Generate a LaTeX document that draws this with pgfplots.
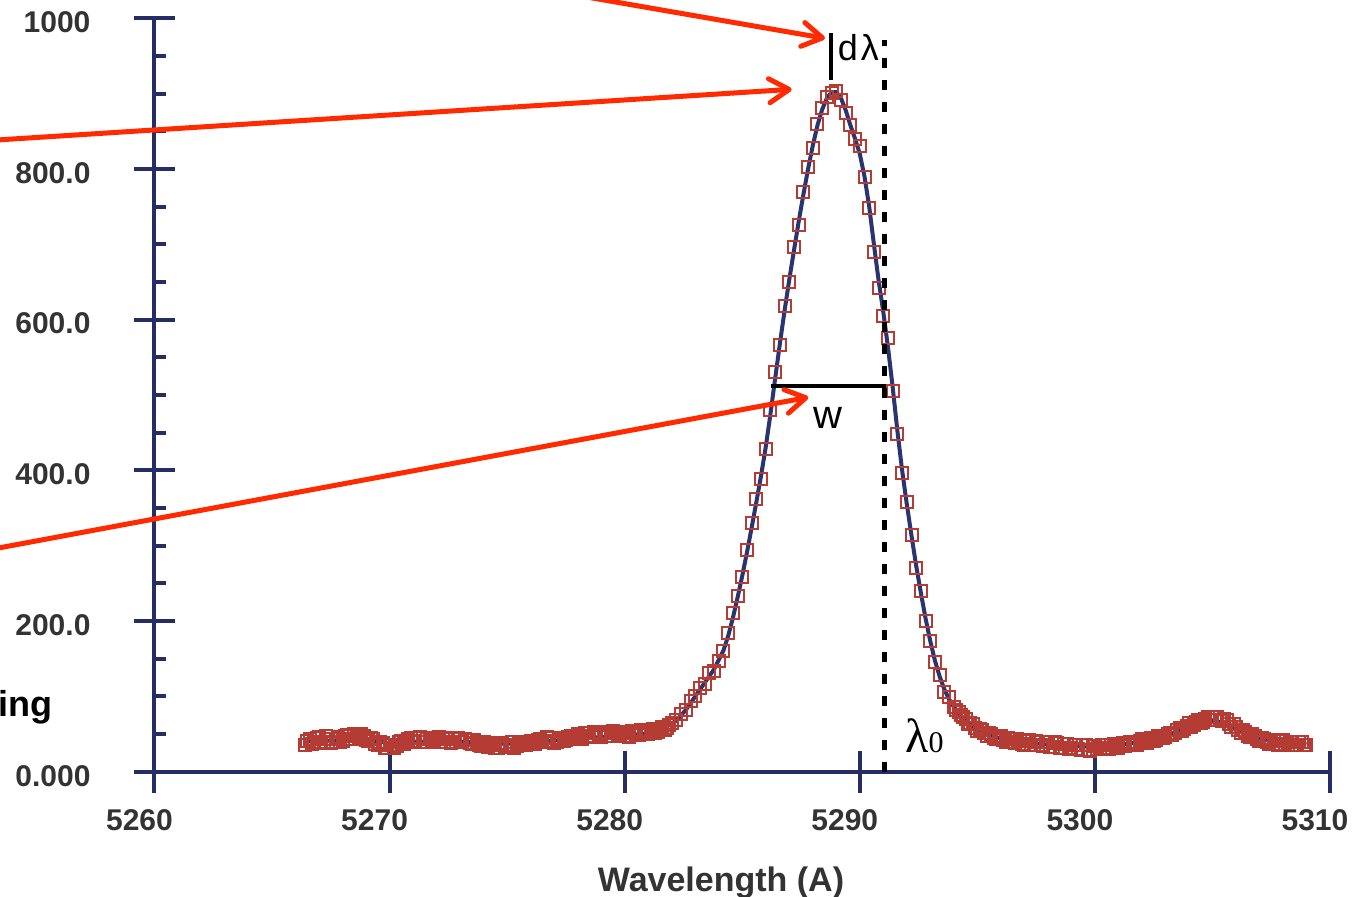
\documentclass[border=0pt]{standalone}
\usepackage{pgfplots}
\pgfplotsset{compat=1.18}
\usepackage{pgfplotstable}
\usepackage{fontspec}
\setmainfont{Liberation Sans}
\newfontfamily\lamfont{Liberation Serif}
\usetikzlibrary{arrows.meta}

\definecolor{axnavy}{RGB}{38,45,100}
\definecolor{mred}{RGB}{180,60,52}
\definecolor{fitblue}{RGB}{42,52,112}
\definecolor{arrred}{RGB}{255,42,0}
\definecolor{lblgray}{RGB}{51,51,51}

\pgfplotstableread{
x y
5266.4 36
5266.6 44
5266.8 39
5267.0 46
5267.2 38
5267.4 44
5267.6 39
5267.8 46
5268.0 41
5268.2 49
5268.4 44
5268.6 48
5268.8 50
5269.0 42
5269.2 45
5269.4 37
5269.6 39
5269.8 32
5270.0 35
5270.2 31
5270.4 40
5270.6 37
5270.8 44
5271.0 39
5271.2 45
5271.4 40
5271.6 43
5271.8 39
5272.0 44
5272.2 40
5272.4 45
5272.6 38
5272.8 43
5273.0 40
5273.2 44
5273.4 38
5273.6 42
5273.8 36
5274.0 39
5274.2 33
5274.4 38
5274.6 32
5274.8 38
5275.0 33
5275.2 39
5275.4 34
5275.6 40
5275.8 35
5276.0 41
5276.2 37
5276.4 44
5276.6 39
5276.8 45
5277.0 38
5277.2 44
5277.4 41
5277.6 46
5277.8 43
5278.0 50
5278.2 44
5278.4 51
5278.6 47
5278.8 52
5279.0 46
5279.2 51
5279.4 47
5279.6 53
5279.8 48
5280.0 53
5280.2 46
5280.4 53
5280.6 49
5280.8 54
5281.0 50
5281.2 57
5281.4 53
5281.6 59
5281.8 58
5282.0 65
5282.2 68
5282.4 77
5282.6 82
5282.8 94
5283.0 100
5283.2 111
5283.4 117
5283.6 131
5283.8 134
5284.0 147
5284.2 160
5284.4 184
5284.6 210
5284.8 233
5285.0 259
5285.2 294
5285.4 330
5285.6 362
5285.8 388
5286.0 428
5286.2 480
5286.4 530
5286.6 566
5286.8 618
5287.0 650
5287.2 696
5287.4 726
5287.6 770
5287.8 802
5288.0 828
5288.2 860
5288.4 881
5288.6 896
5288.8 901
5289.0 903
5289.2 892
5289.4 874
5289.6 858
5289.8 840
5290.0 830
5290.2 790
5290.4 748
5290.6 690
5290.8 642
5291.0 605
5291.2 575
5291.4 505
5291.6 448
5291.8 396
5292.0 358
5292.2 314
5292.4 271
5292.6 240
5292.8 200
5293.0 174
5293.2 146
5293.4 128
5293.6 106
5293.8 99
5294.0 86
5294.2 79
5294.4 73
5294.6 63
5294.8 63
5295.0 54
5295.2 55
5295.4 48
5295.6 50
5295.8 43
5296.0 47
5296.2 40
5296.4 43
5296.6 38
5296.8 41
5297.0 36
5297.2 42
5297.4 35
5297.6 40
5297.8 34
5298.0 39
5298.2 33
5298.4 38
5298.6 32
5298.8 37
5299.0 31
5299.2 36
5299.4 29
5299.6 35
5299.8 28
5300.0 34
5300.2 31
5300.4 35
5300.6 30
5300.8 37
5301.0 32
5301.2 38
5301.4 35
5301.6 40
5301.8 36
5302.0 43
5302.2 38
5302.4 45
5302.6 42
5302.8 48
5303.0 46
5303.2 52
5303.4 51
5303.6 58
5303.8 57
5304.0 64
5304.2 62
5304.4 68
5304.6 66
5304.8 72
5305.0 69
5305.2 72
5305.4 67
5305.6 69
5305.8 60
5306.0 60
5306.2 52
5306.4 53
5306.6 46
5306.8 48
5307.0 41
5307.2 43
5307.4 37
5307.6 41
5307.8 36
5308.0 42
5308.2 36
5308.4 39
5308.6 35
5308.8 40
5309.0 35
}\datatable

\pgfplotstableread{
x y
5266.5 41
5266.7 37
5266.9 45
5267.1 40
5267.3 47
5267.5 38
5267.7 43
5267.9 40
5268.1 47
5268.3 43
5268.5 50
5268.7 45
5268.9 48
5269.1 41
5269.3 43
5269.5 36
5269.7 38
5269.9 31
5270.1 36
5270.3 34
5270.5 41
5270.7 39
5270.9 45
5271.1 41
5271.3 46
5271.5 39
5271.7 45
5271.9 41
5272.1 46
5272.3 39
5272.5 44
5272.7 40
5272.9 45
5273.1 39
5273.3 42
5273.5 37
5273.7 40
5273.9 34
5274.1 37
5274.3 35
5274.5 31
5274.7 36
5274.9 34
5275.1 36
5275.3 32
5275.5 38
5275.7 36
5275.9 39
5276.1 38
5276.3 42
5276.5 40
5276.7 46
5276.9 41
5277.1 40
5277.3 45
5277.5 42
5277.7 47
5277.9 45
5278.1 47
5278.3 52
5278.5 46
5278.7 53
5278.9 49
5279.1 53
5279.3 47
5279.5 54
5279.7 50
5279.9 51
5280.1 48
5280.3 54
5280.5 50
5280.7 55
5280.9 52
5281.1 54
5281.3 51
5281.5 57
5281.7 56
5281.9 62
5294.1 82
5294.3 75
5294.5 70
5294.7 64
5294.9 58
5295.1 57
5295.3 51
5295.5 52
5295.7 45
5295.9 48
5296.1 42
5296.3 45
5296.5 39
5296.7 43
5296.9 37
5297.1 41
5297.3 36
5297.5 41
5297.7 35
5297.9 39
5298.1 33
5298.3 39
5298.5 32
5298.7 37
5298.9 30
5299.1 36
5299.3 30
5299.5 35
5299.7 29
5299.9 34
5300.1 30
5300.3 35
5300.5 31
5300.7 36
5300.9 33
5301.1 37
5301.3 34
5301.5 39
5301.7 37
5301.9 41
5302.1 40
5302.3 44
5302.5 41
5302.7 47
5302.9 45
5303.1 50
5303.3 49
5303.5 55
5303.7 54
5303.9 61
5304.1 60
5304.3 66
5304.5 64
5304.7 70
5304.9 68
5305.1 73
5305.3 69
5305.5 70
5305.7 63
5305.9 63
5306.1 55
5306.3 56
5306.5 48
5306.7 50
5306.9 43
5307.1 45
5307.3 39
5307.5 42
5307.7 37
5307.9 41
5308.1 37
5308.3 40
5308.5 36
5308.7 40
5308.9 36
}\basetable

\pgfplotstableread{
x y
5266.4 40
5268.0 42
5269.0 43
5270.0 38
5271.0 40
5273.0 40
5275.0 37
5276.5 40
5278.0 44
5280.0 48
5281.0 51
5281.4 55
5281.8 60
5282.2 68
5282.6 82
5283.0 100
5283.4 118
5283.8 136
5284.2 161
5284.4 180
5284.6 204
5284.8 231
5285.0 260
5285.2 291
5285.4 324
5285.6 358
5285.8 393
5286.0 431
5286.2 475
5286.4 522
5286.6 568
5286.8 612
5287.0 653
5287.2 692
5287.4 730
5287.6 766
5287.8 800
5288.0 831
5288.2 858
5288.4 879
5288.6 894
5288.8 902
5289.0 902
5289.2 894
5289.4 878
5289.6 858
5289.8 840
5290.0 820
5290.2 790
5290.4 750
5290.6 700
5290.8 652
5291.0 610
5291.2 563
5291.4 510
5291.6 452
5291.8 400
5292.0 355
5292.2 313
5292.4 273
5292.6 237
5292.8 203
5293.0 173
5293.2 147
5293.4 126
5293.6 109
5293.8 96
5294.0 86
5294.4 71
5294.8 60
5295.2 53
5295.6 48
5296.0 44
5296.6 41
5297.0 39
5298.0 36
5299.0 34
5300.0 33
5301.0 35
5302.0 40
5303.0 47
5304.0 60
5304.6 66
5305.0 68
5305.6 64
5306.2 54
5307.0 44
5308.0 39
5309.0 37
}\fittable

\begin{document}
\begin{tikzpicture}
\begin{axis}[
  at={(0,0)}, anchor=south west,
  scale only axis, width=587.75pt, height=376.7pt,
  xmin=5260, xmax=5310, ymin=0, ymax=1000,
  axis x line=bottom, axis y line=left,
  axis line style={-, line width=2pt, color=axnavy},
  major tick style={line width=2pt, color=axnavy},
  tick align=center, major tick length=21pt,
  xtick={5260,5270,5280,5290,5300,5310},
  xticklabels={5260,5270,5280,5290,5300,5310},
  ytick={0,200,400,600,800,1000},
  yticklabels={0.000,200.0,400.0,600.0,800.0,1000},
  extra y ticks={50,100,150,250,300,350,450,500,550,650,700,750,850,900,950},
  extra y tick labels={},
  extra y tick style={tick align=inside, major tick length=6pt},
  ticklabel style={font=\bfseries\fontsize{15}{15}\selectfont, text=lblgray},
  xticklabel style={anchor=north, xshift=-7.5pt, yshift=-5pt},
  yticklabel style={anchor=east, xshift=-18pt, yshift=-2pt},
  clip=false,
]
\addplot[fitblue, line width=2pt, no markers] table[x=x, y=y] {\fittable};
\addplot[only marks, mark=square, mark size=3pt, mark options={draw=mred, line width=1pt, fill=none}] table[x=x, y=y] {\basetable};
\addplot[only marks, mark=square, mark size=3pt, mark options={draw=mred, line width=1pt, fill=none}] table[x=x, y=y] {\datatable};
\end{axis}

% annotations
\draw[black, line width=2.5pt, dash pattern=on 5pt off 6pt] (364.9pt,0pt) -- (364.9pt,365.85pt);
\draw[black, line width=1.6pt] (308.1pt,192.85pt) -- (365.5pt,192.85pt);
\draw[black, line width=1.6pt] (338.25pt,345.85pt) -- (338.25pt,369.35pt);
\node[font=\fontsize{18}{18}\selectfont, inner sep=0pt, anchor=base west] at (341.5pt,355.5pt) {d\kern1.5pt λ};
\node[font=\fontsize{20}{20}\selectfont, inner sep=0pt] at (336.75pt,177pt) {w};
\node[anchor=base west, inner sep=0pt, font=\lamfont\fontsize{24}{24}\selectfont] at (375.25pt,9.85pt) {λ{\fontsize{15}{15}\selectfont 0}};

\draw[arrred, line width=2.5pt, cap=round, -{Straight Barb[length=10pt, width=12pt, round]}] (172.75pt,394.85pt) -- (335.25pt,366.7pt);
\draw[arrred, line width=2.5pt, cap=round, -{Straight Barb[length=10pt, width=12pt, round]}] (-102.25pt,314.35pt) -- (318.6pt,341.2pt);
\draw[arrred, line width=2.5pt, cap=round, -{Straight Barb[length=10pt, width=12pt, round]}] (-102.25pt,107.35pt) -- (326.9pt,187.2pt);

\node[anchor=base east, inner sep=0pt, font=\bfseries\fontsize{18}{18}\selectfont] at (-50.75pt,27.5pt) {ing};
\node[anchor=base, inner sep=0pt, font=\bfseries\fontsize{17}{17}\selectfont, text=lblgray] at (283.25pt,-59.65pt) {Wavelength (A)};

\pgfresetboundingbox
\useasboundingbox (-77.25pt,-62.15pt) rectangle (604.75pt,385.85pt);
\end{tikzpicture}
\end{document}
